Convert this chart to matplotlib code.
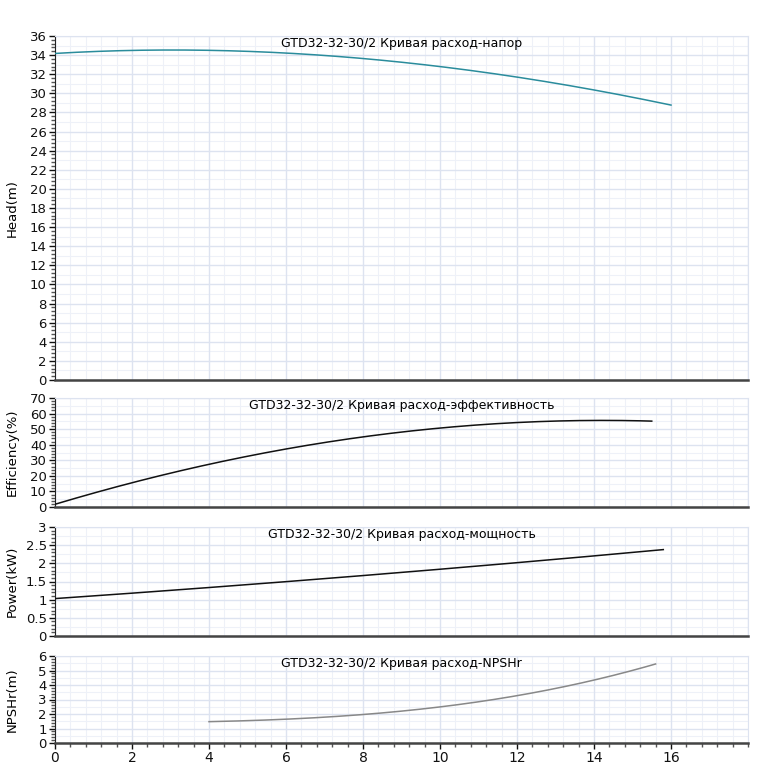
import numpy as np
import matplotlib.pyplot as plt
from matplotlib.ticker import MultipleLocator, FormatStrFormatter

# данные
head_q = [0, 2, 4, 6, 8, 10, 12, 14, 16]
head_h = [34.2, 34.45, 34.5, 34.2, 33.7, 32.8, 31.7, 30.3, 28.8]

eff_q = [0, 2, 4, 6, 8, 10, 12, 14, 15.5]
eff_v = [2.0, 15.2, 27.0, 38.0, 45.0, 50.7, 54.0, 55.5, 55.3]

pow_q = [0, 2, 4, 6, 8, 10, 12, 14, 15.8]
pow_v = [1.03, 1.18, 1.33, 1.5, 1.66, 1.84, 2.02, 2.2, 2.38]

npsh_q = [4, 6, 8, 10, 12, 14, 15.6]
npsh_v = [1.47, 1.65, 1.95, 2.5, 3.26, 4.34, 5.45]

model = 'GTD32-32-30/2'
titles = [model + ' Кривая расход-напор',
          model + ' Кривая расход-эффективность',
          model + ' Кривая расход-мощность',
          model + ' Кривая расход-NPSHr']
ylabels = ['Head(m)', 'Efficiency(%)', 'Power(kW)', 'NPSHr(m)']
ylims = [36, 70, 3, 6]
ymajor = [2, 10, 0.5, 1]

plt.rcParams['font.family'] = ['DejaVu Sans']


def smooth(q, v, n=200):
    """Гладкая кривая по опорным точкам (полином)"""
    p = np.polyfit(q, v, 3)
    x = np.linspace(q[0], q[-1], n)
    return x, np.polyval(p, x)


fig = plt.figure(figsize=(7.65, 7.74), dpi=100)
left = 55 / 765
width = 693 / 765
boxes = [(36, 380), (398, 507), (527, 636), (656, 743)]

series = [(head_q, head_h, '#2a8c9c'),
          (eff_q, eff_v, '#111111'),
          (pow_q, pow_v, '#111111'),
          (npsh_q, npsh_v, '#888888')]

for i in range(4):
    top, bot = boxes[i]
    ax = fig.add_axes([left, 1 - bot / 774, width, (bot - top) / 774])
    q, v, c = series[i]
    x, y = smooth(q, v)
    ax.plot(x, y, color=c, lw=1.1, zorder=3)
    ax.set_xlim(0, 18)
    ax.set_ylim(0, ylims[i])
    ax.xaxis.set_major_locator(MultipleLocator(2))
    ax.xaxis.set_minor_locator(MultipleLocator(0.4))
    ax.yaxis.set_major_locator(MultipleLocator(ymajor[i]))
    ax.yaxis.set_minor_locator(MultipleLocator(ymajor[i] / 5))
    ax.yaxis.set_major_formatter(FormatStrFormatter('%g'))
    ax.grid(which='major', color='#dde3f0', lw=1)
    ax.grid(which='minor', axis='x', color='#eef1f8', lw=0.8)
    for yy in np.arange(ymajor[i] / 2, ylims[i], ymajor[i]):
        ax.axhline(yy, color='#eef1f8', lw=0.8, zorder=0)
    ax.set_axisbelow(True)
    for s in ['top', 'right']:
        ax.spines[s].set_color('#dde3f0')
    ax.spines['left'].set_color('#222222')
    ax.spines['bottom'].set_color('#444444')
    ax.spines['bottom'].set_linewidth(1.8)
    ax.tick_params(which='major', length=4, width=1, labelsize=9.5, colors='#111111', pad=2)
    ax.tick_params(which='minor', length=3, width=1, colors='#555555')
    if i < 3:
        ax.tick_params(axis='x', which='both', bottom=False, labelbottom=False)
    else:
        ax.set_xticks(range(0, 17, 2))
        ax.tick_params(axis='x', labelsize=10)
    ax.set_ylabel(ylabels[i], fontsize=9.5)
    ax.yaxis.set_label_coords(-0.052, 0.5)
    ax.annotate(titles[i], xy=(0.5, 1), xycoords='axes fraction',
                xytext=(0, -1), textcoords='offset points',
                ha='center', va='top', fontsize=9)

fig.savefig('out.png', dpi=100)
